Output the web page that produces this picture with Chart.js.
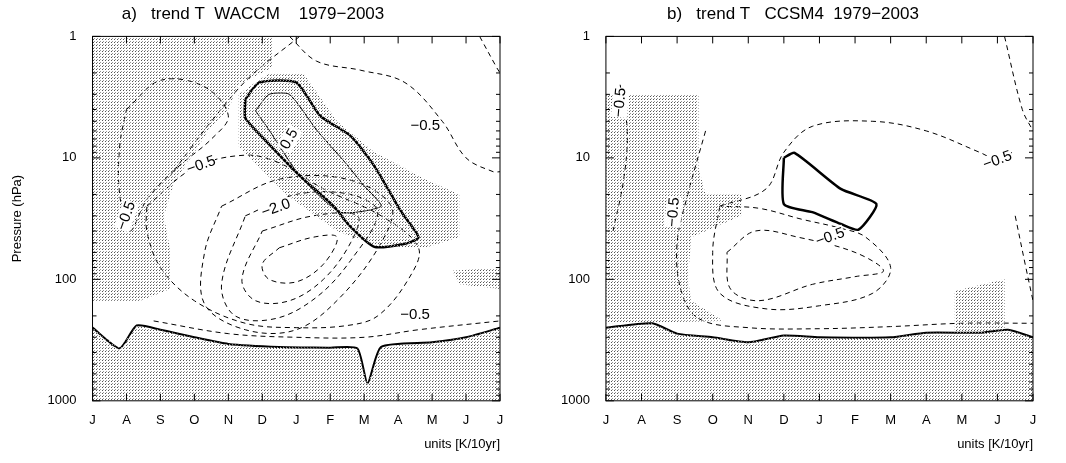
<!DOCTYPE html>
<html><head><meta charset="utf-8">
<script src="https://cdn.jsdelivr.net/npm/chart.js@4.4.1/dist/chart.umd.min.js"></script>
<style>
body{margin:0;background:#fff;width:1066px;height:463px;overflow:hidden}
.pane{position:absolute;top:0;height:463px}
</style></head><body>
<div class="pane" style="left:0;width:533px"><canvas id="ca"></canvas></div>
<div class="pane" style="left:533px;width:533px"><canvas id="cb"></canvas></div>
<script>
// months from July (0) to next July (12), pressure in hPa
const monthLabels = ['J','A','S','O','N','D','J','F','M','A','M','J','J'];
const pressureTicks = [1, 10, 100, 1000];

// ---- panel a: WACCM
const aBottomLine = [{x:0,y:250},{x:0.8,y:370},{x:1.3,y:240},{x:2,y:260},{x:3,y:300},{x:4,y:340},{x:5.5,y:360},{x:7,y:365},{x:7.8,y:370},{x:8.1,y:720},{x:8.5,y:360},{x:10,y:330},{x:11,y:300},{x:12,y:250}];
const aPosThick = [{x:4.5,y:3.3},{x:4.9,y:2.4},{x:6.0,y:2.4},{x:6.7,y:4.5},{x:7.6,y:6.6},{x:8.3,y:11.7},{x:9.1,y:28},{x:9.6,y:45},{x:9.2,y:51},{x:8.3,y:54},{x:7.6,y:37},{x:7.1,y:25},{x:6.1,y:14},{x:5.1,y:7.2},{x:4.5,y:4.7},{x:4.5,y:3.3}];
const aPosThin = [{x:4.8,y:4.1},{x:5.2,y:3.0},{x:5.8,y:3.0},{x:6.6,y:5.9},{x:7.4,y:10.6},{x:8.0,y:17},{x:8.5,y:25},{x:7.3,y:28},{x:6.1,y:14},{x:5.2,y:5.9},{x:4.8,y:4.1}];
const aNeg1 = [{x:5.5,y:55},{x:6.5,y:45},{x:7.2,y:45},{x:6.8,y:75},{x:6.0,y:105},{x:5.2,y:100},{x:5.0,y:75},{x:5.5,y:55}];
const aNeg2 = [{x:5.0,y:40},{x:6.5,y:30},{x:7.8,y:30},{x:7.6,y:50},{x:6.8,y:100},{x:5.8,y:150},{x:4.8,y:150},{x:4.4,y:100},{x:5.0,y:40}];
const aNeg3 = [{x:4.5,y:30},{x:6.0,y:20},{x:7.6,y:20},{x:8.4,y:28},{x:7.6,y:70},{x:6.6,y:140},{x:5.4,y:210},{x:4.2,y:200},{x:3.8,y:110},{x:4.5,y:30}];
const aNeg4 = [{x:3.8,y:25},{x:5.5,y:15},{x:7.5,y:15},{x:8.8,y:25},{x:8.5,y:50},{x:7.3,y:140},{x:6.0,y:260},{x:4.5,y:260},{x:3.3,y:160},{x:3.3,y:60},{x:3.8,y:25}];
const aNeg5 = [{x:1.6,y:25},{x:3,y:12},{x:4.5,y:9.5},{x:5.5,y:11},{x:6.8,y:18},{x:8.5,y:30},{x:9.6,y:55},{x:9.3,y:100},{x:8.4,y:200},{x:7.5,y:240},{x:6,y:250},{x:4.5,y:230},{x:3,y:150},{x:2,y:80},{x:1.6,y:40},{x:1.6,y:25}];
const aLeftLoop = [{x:1.0,y:4},{x:2.0,y:2.3},{x:3.3,y:2.6},{x:4.0,y:4.5},{x:3.5,y:7},{x:2.5,y:12},{x:1.6,y:22},{x:1.1,y:40},{x:0.8,y:20},{x:0.8,y:8},{x:1.0,y:4}];
const aTopLeft = [{x:6.1,y:1},{x:4.6,y:2.2},{x:3.5,y:5},{x:2.8,y:9},{x:2.3,y:14}];
const aTopRight = [{x:5.8,y:1},{x:6.6,y:1.6},{x:7.9,y:1.9},{x:9.2,y:2.4},{x:10.3,y:5},{x:11,y:10},{x:11.8,y:13},{x:12,y:13}];
const aEdge = [{x:11.4,y:1},{x:11.9,y:1.8},{x:12,y:2}];
const aLowDash = [{x:1.8,y:220},{x:4,y:280},{x:6,y:300},{x:8,y:300},{x:9.6,y:260},{x:12,y:220}];
const aStipUL = [{x:0,y:1},{x:5.3,y:1},{x:5.3,y:1.8},{x:4.3,y:2.5},{x:4.0,y:4},{x:3.4,y:6},{x:3.0,y:9},{x:2.4,y:16},{x:2.1,y:30},{x:2.3,y:60},{x:2.3,y:120},{x:1.4,y:150},{x:0,y:150},{x:0,y:1}];
const aStipR = [{x:4.3,y:3},{x:5.2,y:2},{x:6.2,y:2},{x:7.2,y:5},{x:8.3,y:9},{x:9.8,y:15},{x:10.8,y:20},{x:10.8,y:45},{x:9.8,y:55},{x:8.5,y:55},{x:7.2,y:40},{x:5.7,y:20},{x:4.3,y:8},{x:4.3,y:3}];
const aStipBand = [{x:10.6,y:85},{x:12,y:80},{x:12,y:120},{x:10.8,y:110},{x:10.6,y:85}];
const aLabels = [{x:1.0,y:30,t:'-0.5',r:-70},{x:3.2,y:11.5,t:'-0.5',r:-20},{x:5.4,y:26,t:'-2.0',r:-20},{x:9.5,y:195,t:'-0.5',r:0},{x:9.8,y:5.5,t:'-0.5',r:0},{x:5.8,y:7,t:'0.5',r:-60}];

// ---- panel b: CCSM4
const bBottomLine = [{x:0,y:250},{x:1.3,y:230},{x:2,y:280},{x:3,y:300},{x:4,y:330},{x:5,y:290},{x:6,y:300},{x:8,y:300},{x:9,y:275},{x:10.5,y:275},{x:11.3,y:260},{x:12,y:300}];
const bPosThick = [{x:5.0,y:10},{x:5.3,y:9.1},{x:6.6,y:18},{x:7.6,y:24},{x:7.1,y:39},{x:6.6,y:35},{x:5.8,y:28},{x:5.0,y:24},{x:5.0,y:10}];
const bLeftDash = [{x:0.4,y:2.5},{x:0.6,y:6},{x:0.5,y:15},{x:0.2,y:40}];
const bOuter = [{x:2.8,y:6},{x:2.3,y:20},{x:2.0,y:50},{x:2.1,y:120},{x:2.6,y:210},{x:4,y:250},{x:6,y:255},{x:8,y:245},{x:10,y:230},{x:12,y:230}];
const bMid = [{x:3.2,y:25},{x:4.5,y:18},{x:5.0,y:9},{x:5.8,y:5.5},{x:7.5,y:5},{x:9,y:6},{x:10.5,y:9},{x:11.2,y:11},{x:11.4,y:9}];
const bMidLow = [{x:3.2,y:25},{x:3.0,y:60},{x:3.2,y:130},{x:4.5,y:175},{x:6,y:165},{x:7.5,y:130},{x:8,y:80},{x:7.3,y:45},{x:6.6,y:38},{x:5.5,y:32},{x:4.3,y:26},{x:3.2,y:25}];
const bInner = [{x:3.4,y:60},{x:4.2,y:40},{x:5.4,y:45},{x:7.0,y:60},{x:7.8,y:85},{x:7.0,y:95},{x:5.8,y:110},{x:4.3,y:150},{x:3.5,y:120},{x:3.4,y:60}];
const bEdge1 = [{x:11.2,y:1},{x:11.7,y:4},{x:12,y:6}];
const bEdge2 = [{x:11.5,y:30},{x:11.8,y:80},{x:12,y:150}];
const bStipL = [{x:0,y:3},{x:2.6,y:3},{x:2.6,y:12},{x:2.8,y:20},{x:3.8,y:20},{x:3.8,y:30},{x:2.4,y:45},{x:2.3,y:100},{x:2.4,y:150},{x:3.3,y:220},{x:0,y:230},{x:0,y:3}];
const bStipR = [{x:9.8,y:125},{x:11.2,y:100},{x:11.2,y:280},{x:9.8,y:280},{x:9.8,y:125}];
const bLabels = [{x:0.4,y:3.5,t:'-0.5',r:-85},{x:1.9,y:28,t:'-0.5',r:-85},{x:6.3,y:45,t:'-0.5',r:-20},{x:11.0,y:10.5,t:'-0.5',r:-20}];

function stipple() {
    const c = document.createElement('canvas');
    c.width = 3; c.height = 3;
    const g = c.getContext('2d');
    g.fillStyle = '#555';
    g.fillRect(0, 0, 1, 1);
    g.fillStyle = '#999';
    g.fillRect(1, 2, 1, 1);
    return g.createPattern(c, 'repeat');
}
const pat = stipple();

function withFloor(line) {
    return line.concat([{x:12,y:1000},{x:0,y:1000},line[0]]);
}
function area(pts) {
    return {data: pts, borderWidth: 0, backgroundColor: pat, fill: 'shape', pointRadius: 0, tension: 0};
}
function solid(pts, w) {
    return {data: pts, borderColor: '#000', borderWidth: w, fill: false, pointRadius: 0, tension: 0.2};
}
function dash(pts) {
    return {data: pts, borderColor: '#000', borderWidth: 1, borderDash: [5,4], fill: false, pointRadius: 0, tension: 0.35};
}

const frame = {
    id: 'frame',
    afterDatasetsDraw(chart, args, opts) {
        const {ctx, chartArea: a, scales: {x, y}} = chart;
        ctx.save();
        // contour labels
        ctx.font = '15px "Liberation Sans", Arial';
        ctx.textAlign = 'center'; ctx.textBaseline = 'middle';
        opts.labels.forEach(l => {
            ctx.save();
            ctx.translate(x.getPixelForValue(l.x), y.getPixelForValue(l.y));
            ctx.rotate(l.r * Math.PI / 180);
            const w = ctx.measureText(l.t).width;
            ctx.fillStyle = '#fff';
            ctx.fillRect(-w / 2 - 2, -8, w + 4, 16);
            ctx.fillStyle = '#000';
            ctx.fillText(l.t.replace('-', '\u2212'), 0, 0);
            ctx.restore();
        });
        ctx.strokeStyle = '#000'; ctx.lineWidth = 1;
        ctx.strokeRect(a.left, a.top, a.right - a.left, a.bottom - a.top);
        ctx.beginPath();
        for (let i = 0; i <= 12; i++) {
            const px = x.getPixelForValue(i);
            ctx.moveTo(px, a.bottom); ctx.lineTo(px, a.bottom - 7);
            ctx.moveTo(px, a.top); ctx.lineTo(px, a.top + 7);
        }
        for (let d = 1; d <= 1000; d *= 10) {
            for (let k = 1; k < 10 && d * k <= 1000; k++) {
                const py = y.getPixelForValue(d * k);
                const len = k === 1 ? 8 : 4;
                ctx.moveTo(a.left, py); ctx.lineTo(a.left + len, py);
                ctx.moveTo(a.right, py); ctx.lineTo(a.right - len, py);
            }
        }
        ctx.stroke();
        ctx.restore();
    }
};

function makeChart(id, title, datasets, labels, padLeft, showY) {
    return new Chart(document.getElementById(id), {
        type: 'line',
        data: {datasets: datasets},
        plugins: [frame],
        options: {
            responsive: true, maintainAspectRatio: false, animation: false,
            layout: {padding: {left: padLeft, right: 33, top: 4, bottom: 7}},
            plugins: {
                legend: {display: false}, tooltip: {enabled: false},
                title: {display: true, text: title, color: '#000', font: {family: '"Liberation Sans", Arial', size: 17, weight: 'normal'}, padding: {bottom: 12}},
                frame: {labels: labels}
            },
            scales: {
                x: {type: 'linear', min: 0, max: 12,
                    afterBuildTicks: s => { s.ticks = monthLabels.map((m, i) => ({value: i})); },
                    ticks: {callback: v => monthLabels[v], color: '#000', font: {family: '"Liberation Sans", Arial', size: 13}, maxRotation: 0, padding: 4},
                    grid: {display: false}, border: {display: false},
                    title: {display: true, text: 'units [K/10yr]', align: 'end', color: '#000', font: {family: '"Liberation Sans", Arial', size: 13}}},
                y: {type: 'logarithmic', min: 1, max: 1000, reverse: true,
                    afterBuildTicks: s => { s.ticks = pressureTicks.map(v => ({value: v})); },
                    ticks: {callback: v => String(v), color: '#000', font: {family: '"Liberation Sans", Arial', size: 13}, padding: 8},
                    grid: {display: false}, border: {display: false},
                    title: {display: showY, text: 'Pressure (hPa)', color: '#000', font: {family: '"Liberation Sans", Arial', size: 13}, padding: {bottom: 14}}}
            }
        }
    });
}

makeChart('ca', 'a)   trend T  WACCM    1979\u22122003', [
    area(aStipUL), area(aStipR), area(aStipBand), area(withFloor(aBottomLine)),
    solid(aBottomLine, 2), solid(aPosThick, 2.5), solid(aPosThin, 1),
    dash(aNeg1), dash(aNeg2), dash(aNeg3), dash(aNeg4), dash(aNeg5), dash(aLeftLoop),
    dash(aTopLeft), dash(aTopRight), dash(aEdge), dash(aLowDash)
], aLabels, 6, true);

makeChart('cb', 'b)   trend T   CCSM4  1979\u22122003', [
    area(bStipL), area(bStipR), area(withFloor(bBottomLine)),
    solid(bBottomLine, 2), solid(bPosThick, 2.5),
    dash(bLeftDash), dash(bOuter), dash(bMid), dash(bMidLow), dash(bInner), dash(bEdge1), dash(bEdge2)
], bLabels, 20, false);
</script>
</body></html>
